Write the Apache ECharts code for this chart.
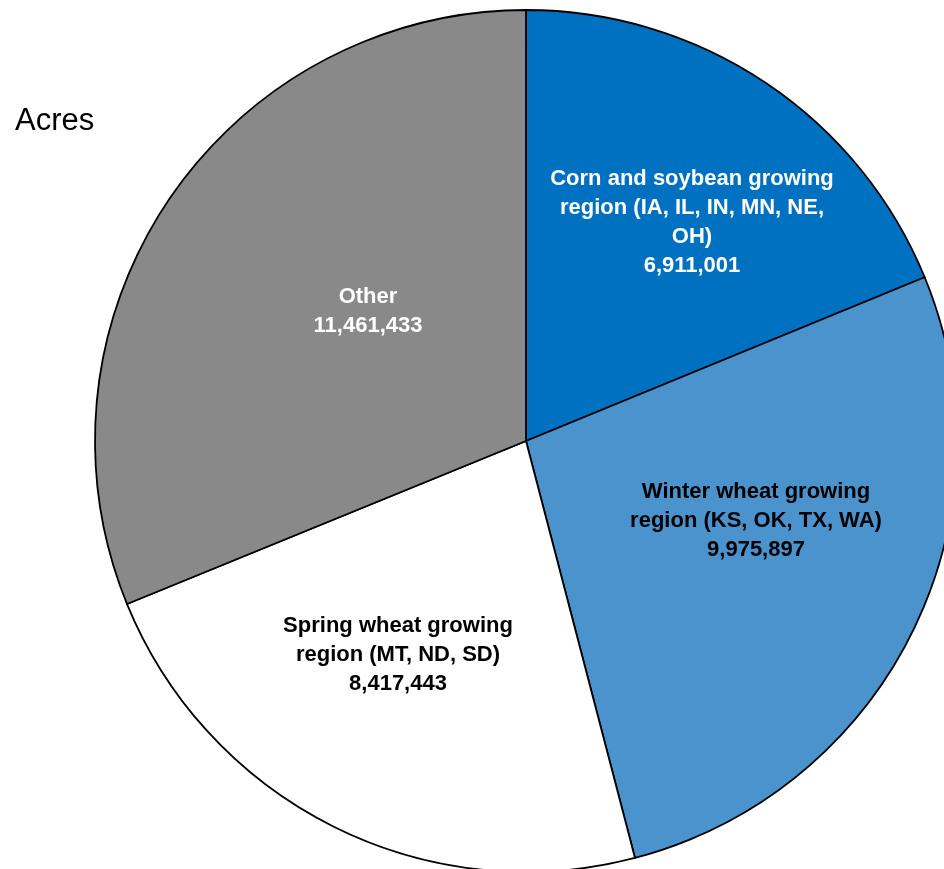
<!DOCTYPE html>
<html>
<head>
<meta charset="utf-8">
<script src="https://cdn.jsdelivr.net/npm/echarts@6/dist/echarts.min.js"></script>
<style>
html,body{margin:0;padding:0;background:#fff;}
#chart{width:944px;height:869px;}
</style>
</head>
<body>
<div id="chart"></div>
<script>
// Data
const categories = [
  "Corn and soybean growing\nregion (IA, IL, IN, MN, NE,\nOH)",
  "Winter wheat growing\nregion (KS, OK, TX, WA)",
  "Spring wheat growing\nregion (MT, ND, SD)",
  "Other"
];
const values = [6911001, 9975897, 8417443, 11461433];
const unitLabel = "Acres";

// Styling (not data)
const colors = ["#0070C0", "#4A93CD", "#FFFFFF", "#898989"];
const labelColors = ["#FFFFFF", "#000000", "#000000", "#FFFFFF"];
const labelAnchors = [[692, 222], [756, 521], [398, 655], [368, 311]];

function fmt(v){ return v.toString().replace(/\B(?=(\d{3})+(?!\d))/g, ","); }

const chart = echarts.init(document.getElementById('chart'), null, {renderer: 'canvas'});
chart.setOption({
  animation: false,
  backgroundColor: '#ffffff',
  title: {
    text: unitLabel,
    left: 15,
    top: 106,
    padding: 0,
    textStyle: {fontFamily: 'Liberation Sans, Arial, sans-serif', fontSize: 31, fontWeight: 'normal', color: '#000', lineHeight: 31}
  },
  series: [{
    type: 'pie',
    center: [526, 441],
    radius: [0, 431],
    startAngle: 90,
    clockwise: true,
    avoidLabelOverlap: false,
    emphasis: {disabled: true},
    itemStyle: {borderColor: '#000', borderWidth: 1.8},
    label: {
      show: true,
      position: 'inside',
      fontFamily: 'Liberation Sans, Arial, sans-serif',
      fontSize: 22,
      fontWeight: 'bold',
      lineHeight: 29,
      align: 'center',
      formatter: p => p.name + "\n" + fmt(p.value)
    },
    labelLine: {show: false},
    labelLayout: function (params) {
      const a = labelAnchors[params.dataIndex];
      return {x: a[0], y: a[1], align: 'center', verticalAlign: 'middle'};
    },
    data: categories.map((c, i) => ({
      name: c,
      value: values[i],
      itemStyle: {color: colors[i]},
      label: {color: labelColors[i]}
    }))
  }]
});
</script>
</body>
</html>
